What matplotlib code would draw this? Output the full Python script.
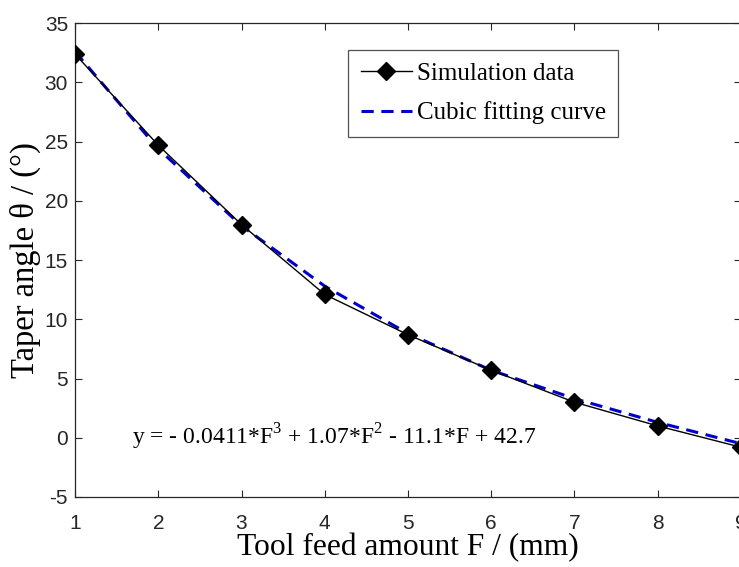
import numpy as np
import matplotlib
matplotlib.use('Agg')
import matplotlib.pyplot as plt

plt.rcParams['mathtext.fontset'] = 'custom'
plt.rcParams['mathtext.rm'] = 'Liberation Serif'
plt.rcParams['axes.unicode_minus'] = False

# =============================================================================
# DATA
# =============================================================================

feed = [1, 2, 3, 4, 5, 6, 7, 8, 9]
sim_angle = [32.4, 24.7, 18.0, 12.1, 8.7, 5.7, 3.0, 1.0, -0.8]
fit_angle = [32.6, 24.4, 17.9, 12.8, 8.8, 5.7, 3.3, 1.3, -0.5]

xticks = [1, 2, 3, 4, 5, 6, 7, 8, 9]
yticks = [-5, 0, 5, 10, 15, 20, 25, 30, 35]

# =============================================================================
# PLOT
# =============================================================================

serif = 'Liberation Serif'
sans = 'Liberation Sans'
axcol = '#262626'

fig = plt.figure(figsize=(7.39, 5.67), dpi=100)
ax = fig.add_axes([0.1015, 0.1235, 0.9012, 0.8355])

ax.plot(feed, sim_angle, color='black', lw=1.0, marker='D', ms=9,
        markerfacecolor='black', label='Simulation data', zorder=3)
ax.plot(feed, fit_angle, color='#0000cc', lw=2.2, ls=(0, (4, 2.5)),
        label='Cubic fitting curve', zorder=2)

ax.set_xlim(1, 9)
ax.set_ylim(-5, 35)
ax.set_xticks(xticks)
ax.set_yticks(yticks)
ax.tick_params(direction='in', length=5, width=0.8, top=True, right=True,
               labelsize=15, colors=axcol, pad=5)
ax.tick_params(axis='x', pad=12)
for lab in ax.get_xticklabels() + ax.get_yticklabels():
    lab.set_family(sans)
    lab.set_color(axcol)
for sp in ax.spines.values():
    sp.set_color(axcol)
    sp.set_linewidth(0.9)

ax.set_xlabel('Tool feed amount F / (mm)', family=serif, size=22.7, labelpad=0)
ax.set_ylabel('Taper angle θ / (°)', family=serif, size=23.5, labelpad=3)

ax.text(1.69, 0.1, r'y = - 0.0411*F$^3$ + 1.07*F$^2$ - 11.1*F + 42.7',
        family=serif, size=17, va='center', ha='left')

leg = ax.legend(loc='upper left', bbox_to_anchor=(0.41, 0.943),
                prop={'family': serif, 'size': 18}, frameon=True,
                fancybox=False, edgecolor=axcol, handlelength=2.05,
                handletextpad=0.2, borderpad=0.5, labelspacing=0.65,
                borderaxespad=0)
leg.get_frame().set_linewidth(0.9)

plt.savefig('out.png', dpi=100)
